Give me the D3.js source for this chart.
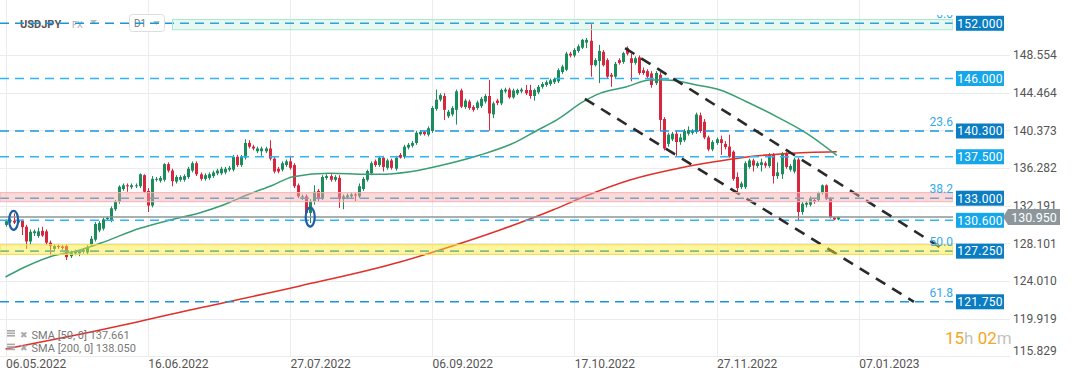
<!DOCTYPE html>
<html><head><meta charset="utf-8">
<script src="https://cdn.jsdelivr.net/npm/d3@7"></script>
<style>html,body{margin:0;padding:0;background:#fff;}svg{display:block;font-family:Roboto,"Noto Sans",sans-serif;}</style>
</head><body><svg id="c" width="1072" height="382"></svg>
<script>
// ---------- DATA ----------
const dateLabels = ["06.05.2022","16.06.2022","27.07.2022","06.09.2022","17.10.2022","27.11.2022","07.01.2023"];
const dateLabelBars = [0,35,70,105,140,175,210];
const priceTicks = [148.554,144.464,140.373,136.282,132.191,128.101,124.010,119.919,115.829];

const open = [130.1,130.5,130.55,130.35,130.55,129.9,128.3,129.2,128.9,129.45,129.4,128.17,127.5,127.8,127.75,127.8,126.7,127.0,127.0,127.2,
127.1,128.0,128.5,129.5,129.7,130.75,130.6,131.8,132.6,134.0,134.4,134.2,134.3,134.3,135.5,133.8,132.2,135.0,134.9,135.0,
136.7,136.0,134.8,135.0,135.0,135.3,136.0,136.8,135.6,135.1,135.2,135.4,135.7,135.7,135.8,136.1,136.1,137.5,136.6,137.4,
139.0,138.6,138.1,138.1,138.1,138.4,137.3,136.2,136.1,136.6,137.0,136.6,134.4,133.1,133.2,131.4,132.7,133.8,133.0,135.2,
135.4,135.0,135.2,132.9,133.1,133.2,133.4,133.2,134.0,135.0,135.7,137.0,136.6,137.4,136.3,137.1,136.2,137.7,137.5,138.5,
138.7,139.0,139.95,140.2,139.9,140.3,142.7,143.7,144.1,141.9,142.1,142.6,144.7,142.9,143.5,142.9,142.8,143.0,143.5,144.1,
142.1,143.6,143.3,144.6,144.8,143.95,144.4,144.6,144.75,144.75,144.1,144.5,145.1,145.3,145.4,145.6,145.7,146.7,146.95,148.7,
148.5,149.0,149.35,149.9,150.1,147.45,147.9,148.9,148.0,146.4,146.2,148.0,147.8,149.3,148.2,147.7,148.3,146.9,146.8,146.55,
145.5,146.4,141.6,138.9,139.4,140.0,139.1,139.3,140.0,140.1,140.2,142.0,141.3,139.6,138.3,139.0,139.4,138.9,138.6,138.05,
135.3,134.2,134.2,136.4,137.1,136.5,136.6,136.8,136.5,137.7,135.4,135.6,137.8,136.1,135.9,137.2,131.5,132.3,132.3,132.8,
132.8,133.6,134.4,133.0,130.9,130.7];
const high = [130.7,130.8,131.35,130.7,130.7,130.1,129.6,129.6,129.8,129.9,129.6,128.4,128.0,128.0,127.9,128.0,127.3,127.4,127.4,127.6,
127.9,128.9,130.4,130.5,130.9,131.0,132.1,132.8,134.4,134.6,134.6,134.6,134.6,135.7,135.6,134.1,135.4,135.3,135.4,136.8,
136.9,136.2,135.5,135.5,135.6,136.4,137.0,137.0,135.8,135.7,135.8,136.0,136.2,136.4,136.4,136.5,137.7,137.7,137.7,139.4,
139.3,138.8,138.6,138.6,138.6,139.3,137.5,136.4,137.0,137.2,137.6,136.8,134.6,133.4,133.4,132.9,134.4,134.0,135.5,135.6,
135.6,135.5,135.5,133.4,133.5,133.6,133.6,134.6,135.3,136.1,137.0,137.2,137.6,137.6,137.3,137.3,137.6,137.9,138.8,139.0,
139.2,140.3,140.4,140.3,140.8,143.0,144.8,144.4,144.4,142.6,143.0,144.8,144.9,143.8,143.7,143.1,143.6,144.0,144.3,145.85,
143.5,143.8,144.9,145.0,145.0,144.9,144.9,145.0,145.3,145.3,144.9,145.3,145.6,145.8,146.0,146.1,147.1,147.5,148.9,148.9,
149.3,149.7,150.3,150.4,151.9,148.2,149.65,149.1,148.2,146.6,147.8,148.2,148.9,149.5,148.7,148.4,148.5,147.2,147.0,146.8,
146.8,146.7,141.8,140.1,140.2,140.3,140.0,140.5,140.8,140.5,142.3,142.3,141.6,139.8,139.3,139.6,139.8,139.2,139.9,138.2,
135.8,134.8,137.0,137.3,137.3,137.0,137.3,137.0,137.9,137.9,136.9,138.0,138.0,136.7,137.4,137.4,132.6,132.7,133.2,133.0,
133.7,134.5,134.5,133.1,131.0,131.0];
const low = [129.9,130.3,130.2,130.2,129.0,127.5,128.0,128.9,128.7,128.8,127.9,126.8,127.2,127.5,127.4,126.3,126.5,126.8,126.7,127.0,
126.9,127.8,128.3,129.3,129.5,130.6,130.4,131.6,132.4,133.8,133.7,134.0,134.1,134.1,133.6,131.5,132.0,134.8,134.7,134.8,
135.8,134.3,134.6,134.8,134.8,135.1,135.8,135.4,134.9,134.9,135.0,135.2,135.5,135.5,135.6,135.9,135.9,136.4,136.4,137.2,
138.4,138.2,137.9,137.6,137.9,137.1,135.7,135.7,135.9,136.4,136.1,134.1,133.0,132.8,131.3,130.3,132.3,132.7,132.8,135.0,
134.8,134.8,131.95,131.8,132.9,133.0,132.7,133.0,133.8,134.8,135.5,136.4,136.4,135.9,136.1,136.1,136.0,137.3,137.3,138.3,
138.5,138.8,139.8,139.8,139.7,140.1,142.5,143.5,141.5,141.7,141.9,141.0,142.8,142.7,142.6,142.4,142.6,142.8,143.3,140.35,
141.7,143.1,143.1,144.4,143.8,143.8,144.2,144.4,144.2,143.8,143.6,144.3,144.9,145.1,145.2,145.4,145.5,146.5,146.8,148.3,
148.3,148.8,149.2,149.3,146.2,147.3,145.5,147.3,146.0,145.1,146.0,147.5,147.6,148.5,145.7,147.5,146.4,146.4,146.0,145.0,
145.3,140.3,138.2,138.6,139.2,137.6,138.8,139.1,139.8,139.9,140.0,140.1,139.4,138.1,138.1,138.8,137.7,138.3,137.4,134.9,
133.6,134.0,134.0,136.2,135.9,136.3,135.9,136.3,136.3,134.6,135.1,135.1,136.2,135.9,135.7,130.6,131.2,132.0,132.1,132.4,
132.6,133.4,132.8,130.8,130.6,130.6];
const close = [130.5,130.6,130.35,130.55,129.85,128.3,129.35,129.4,129.4,128.95,128.17,127.8,127.8,127.7,127.6,126.6,127.1,127.2,127.2,127.4,
127.7,128.6,130.2,130.3,130.7,130.85,131.9,132.6,134.25,134.4,134.3,134.4,134.4,135.6,133.7,132.2,135.1,135.1,135.2,136.7,
136.0,134.85,135.3,135.3,135.4,136.2,136.8,135.6,135.1,135.5,135.6,135.8,136.0,136.2,136.2,136.3,137.5,136.6,137.5,139.0,
138.6,138.4,138.4,138.4,138.4,137.3,135.9,135.9,136.8,137.0,136.3,134.3,133.2,133.2,131.4,132.7,133.7,132.9,135.3,135.4,
135.0,135.3,132.9,133.2,133.3,133.4,133.3,134.3,135.1,135.95,136.8,136.6,137.4,136.4,137.1,136.3,137.4,137.4,138.6,138.8,
139.0,140.1,140.2,139.95,140.6,142.8,143.7,144.2,142.6,142.4,142.8,144.6,142.95,143.6,142.8,142.6,143.4,143.8,144.1,142.2,
143.3,143.35,144.75,144.8,143.95,144.7,144.75,144.8,144.4,144.1,144.75,145.1,145.4,145.6,145.8,145.95,146.9,147.3,148.7,148.5,
149.1,149.5,150.2,150.2,147.45,148.0,149.0,147.45,146.2,146.2,147.6,147.7,148.75,148.7,147.7,148.2,146.6,146.6,146.2,145.3,
146.6,141.5,138.4,139.9,140.0,139.1,139.6,140.3,140.4,140.3,142.1,140.3,139.6,138.3,139.1,139.4,139.0,138.55,137.5,135.1,
134.1,134.6,136.8,137.1,136.55,136.8,136.9,136.55,137.7,135.4,135.8,137.9,136.4,136.5,137.2,131.5,132.4,132.5,133.0,132.6,
133.55,134.4,132.9,130.9,130.7,130.95];

const sma50Bar = [0,3.6,11,18.3,23.3,33.1,40.5,47.9,53.6,59.4,65.9,70.8,79.9,88.9,92.2,99.6,109.4,116.8,125.8,130.7,135.7,142.2,146.3,152.9,158.6,162.7,170.1,175.9,182.4,190.6,197.2,204.6];
const sma50Val = [124.44,125.28,126.65,127.38,128.1,129.73,130.63,131.43,132.26,133.35,134.44,135.34,135.71,135.6,135.6,135.88,136.79,137.69,139.14,140.33,141.5,143.48,144.39,145.11,145.84,145.84,145.3,144.75,143.48,141.68,140.05,137.66];
const sma200Bar = [0,23.3,45.4,72.5,97.1,106.9,121.7,134.7,142.2,153.7,166,174.1,182.5,192.3,204.6];
const sma200Val = [116.63,118.69,120.86,123.47,126.07,127.38,129.55,131.72,133.13,134.98,136.28,136.93,137.48,137.86,138.05];

const levels = [152.0,146.0,140.3,137.5,133.0,130.6,127.25,121.75];
const levelDark = [true,false,true,false,true,false,true,true];
const fibLabels = ["0.0","23.6","38.2","50.0","61.8"];
const fibPrices = [152.0,140.3,133.0,127.25,121.75];
const lastPrice = 130.95;
const channelUpper = [[152.5,149.3],[231.2,127.35]];   // [bar, price]
const channelLower = [[142.6,143.8],[223.6,121.75]];
const zonePink = [132.62,133.6];
const zoneYellow = [126.9,127.95];
const zoneGreen = [151.3,152.4];
const circles = [[2,130.6],[75,130.95]];
const legendLines = ["SMA [50,  0] 137.661","SMA [200,  0] 138.050"];

// ---------- SCALES ----------
const svg = d3.select("#c");
const x = d3.scaleLinear().domain([0,210]).range([5.5,858.7]);
const y = d3.scaleLinear().domain([115.829,148.554]).range([356.3,55]);
const plotR = 953;
const G = "#1b8c5b", R = "#d7263d";

svg.append("rect").attr("width",1072).attr("height",382).attr("fill","#fff");
const defs = svg.append("defs");
defs.append("clipPath").attr("id","plot").append("rect").attr("x",0).attr("y",15).attr("width",plotR).attr("height",341);

// grid
const grid = svg.append("g").attr("stroke","#ececec").attr("stroke-width",1);
priceTicks.forEach(v=>grid.append("line").attr("x1",0).attr("x2",1010).attr("y1",Math.round(y(v))+0.5).attr("y2",Math.round(y(v))+0.5));
dateLabelBars.forEach(b=>grid.append("line").attr("x1",Math.round(x(b))+0.5).attr("x2",Math.round(x(b))+0.5).attr("y1",0).attr("y2",356));
grid.append("line").attr("x1",0).attr("x2",1010).attr("y1",356.5).attr("y2",356.5);

// top-left header (under lines)
const hdr = svg.append("g");
hdr.append("text").attr("x",20).attr("y",28).attr("font-size",11).attr("font-weight","bold").attr("fill","#555").text("USDJPY");
hdr.append("text").attr("x",72).attr("y",28).attr("font-size",9).attr("fill","#aaa").text("FX");
hdr.append("path").attr("d","M90,20 L97,20 L93.5,24 Z").attr("fill","#bbb");
hdr.append("rect").attr("x",129.5).attr("y",14.5).attr("width",35).attr("height",17).attr("rx",3).attr("fill","#fff").attr("stroke","#ddd");
hdr.append("text").attr("x",134).attr("y",27).attr("font-size",10).attr("fill","#777").text("D1");
hdr.append("path").attr("d","M153,21 L160,21 L156.5,25 Z").attr("fill","#bbb");

const plot = svg.append("g").attr("clip-path","url(#plot)");

// candles
const idx = d3.range(close.length);
const cg = plot.append("g");
cg.selectAll("line.w").data(idx).join("line")
  .attr("x1",i=>Math.round(x(i))+0.5).attr("x2",i=>Math.round(x(i))+0.5)
  .attr("y1",i=>y(high[i])).attr("y2",i=>y(low[i]))
  .attr("stroke",i=>close[i]>=open[i]?G:R).attr("stroke-width",1);
cg.selectAll("rect.b").data(idx).join("rect")
  .attr("x",i=>Math.round(x(i))-1).attr("width",3)
  .attr("y",i=>y(Math.max(open[i],close[i])))
  .attr("height",i=>Math.max(1,Math.abs(y(open[i])-y(close[i]))))
  .attr("fill",i=>close[i]>=open[i]?G:R);

// SMA lines
const line = d3.line().x(d=>x(d[0])).y(d=>y(d[1])).curve(d3.curveMonotoneX);
plot.append("path").attr("d",line(sma200Bar.map((b,k)=>[b,sma200Val[k]]))).attr("fill","none").attr("stroke","#e0302c").attr("stroke-width",1.5);
plot.append("path").attr("d",line(sma50Bar.map((b,k)=>[b,sma50Val[k]]))).attr("fill","none").attr("stroke","#3a9e74").attr("stroke-width",1.5);

// horizontal levels
levels.forEach((v,k)=>{
  plot.append("line").attr("x1",0).attr("x2",plotR).attr("y1",y(v)).attr("y2",y(v))
    .attr("stroke",levelDark[k]?"#1896dc":"#2fb5f3").attr("stroke-width",1.6).attr("stroke-dasharray","9,6");
});
// current price line
plot.append("line").attr("x1",0).attr("x2",plotR).attr("y1",y(lastPrice)).attr("y2",y(lastPrice)).attr("stroke","#8c969b").attr("stroke-width",1.5);

// channel lines
[channelUpper,channelLower].forEach(c=>{
  plot.append("line").attr("x1",x(c[0][0])).attr("y1",y(c[0][1])).attr("x2",x(c[1][0])).attr("y2",y(c[1][1]))
    .attr("stroke","#2a2a2a").attr("stroke-width",2.6).attr("stroke-dasharray","11,8");
});

// zones (semi-transparent, above marks)
plot.append("rect").attr("x",172.5).attr("width",plotR-172.5).attr("y",y(zoneGreen[1])).attr("height",y(zoneGreen[0])-y(zoneGreen[1]))
  .attr("fill","rgba(130,220,185,0.2)").attr("stroke","#a6e9cf");
plot.append("rect").attr("x",0).attr("width",plotR).attr("y",y(zonePink[1])).attr("height",y(zonePink[0])-y(zonePink[1]))
  .attr("fill","rgba(248,170,170,0.45)").attr("stroke","#f2b3b3");
plot.append("rect").attr("x",0).attr("width",plotR).attr("y",y(zoneYellow[1])).attr("height",y(zoneYellow[0])-y(zoneYellow[1]))
  .attr("fill","rgba(255,233,40,0.45)").attr("stroke","#f0dc4a");

// ovals
circles.forEach(c=>{
  plot.append("ellipse").attr("cx",x(c[0])).attr("cy",y(c[1])).attr("rx",4.5).attr("ry",9.5)
    .attr("fill","none").attr("stroke","#1d5ea8").attr("stroke-width",2.2);
});

// fib labels
fibLabels.forEach((t,k)=>{
  plot.append("text").attr("x",953).attr("y",y(fibPrices[k])-5).attr("text-anchor","end")
    .attr("font-size",12).attr("fill","#33a9ee").text(t);
});

// right level labels
levels.forEach((v,k)=>{
  const yy = y(v);
  svg.append("rect").attr("x",956).attr("y",yy-7.5).attr("width",48).attr("height",15).attr("fill",levelDark[k]?"#0b7dc3":"#16a6ea");
  svg.append("text").attr("x",980).attr("y",yy+4.3).attr("text-anchor","middle").attr("font-size",12).attr("fill","#fff").attr("letter-spacing",0.3).text(v.toFixed(3));
});
// price axis labels
priceTicks.forEach(v=>{
  svg.append("text").attr("x",1013).attr("y",Math.min(y(v),351)+4.3).attr("font-size",12).attr("fill","#555").text(v.toFixed(3));
});
// last price tag
const ly = y(lastPrice);
svg.append("path").attr("d",`M1003,${ly} L1008,${ly-8} L1060,${ly-8} L1060,${ly+8} L1008,${ly+8} Z`).attr("fill","#8c969b");
svg.append("text").attr("x",1034).attr("y",ly+4.5).attr("text-anchor","middle").attr("font-size",12.5).attr("fill","#fff").text(lastPrice.toFixed(3));

// date labels
dateLabels.forEach((t,k)=>{
  svg.append("text").attr("x",x(dateLabelBars[k])+0.5).attr("y",368).attr("font-size",12).attr("fill","#555").text(t);
});

// legend
legendLines.forEach((t,k)=>{
  const ly2 = 334 + k*13.6;
  const g = svg.append("g");
  [0,2.5,5].forEach(d=>g.append("rect").attr("x",7).attr("y",ly2-4+d).attr("width",8).attr("height",1.6).attr("fill","#aaa"));
  g.append("text").attr("x",19.5).attr("y",ly2+3.5).attr("font-size",9).attr("fill","#aaa").text("✖");
  g.append("text").attr("x",31.5).attr("y",ly2+4.5).attr("font-size",11).attr("fill","#777").text(t);
});

// timer
const tm = svg.append("text").attr("x",945).attr("y",344).attr("font-size",17);
tm.append("tspan").attr("fill","#f5a623").text("15");
tm.append("tspan").attr("fill","#c3c3c3").text("h ");
tm.append("tspan").attr("fill","#f5a623").text("02");
tm.append("tspan").attr("fill","#c3c3c3").text("m");
</script></body></html>
